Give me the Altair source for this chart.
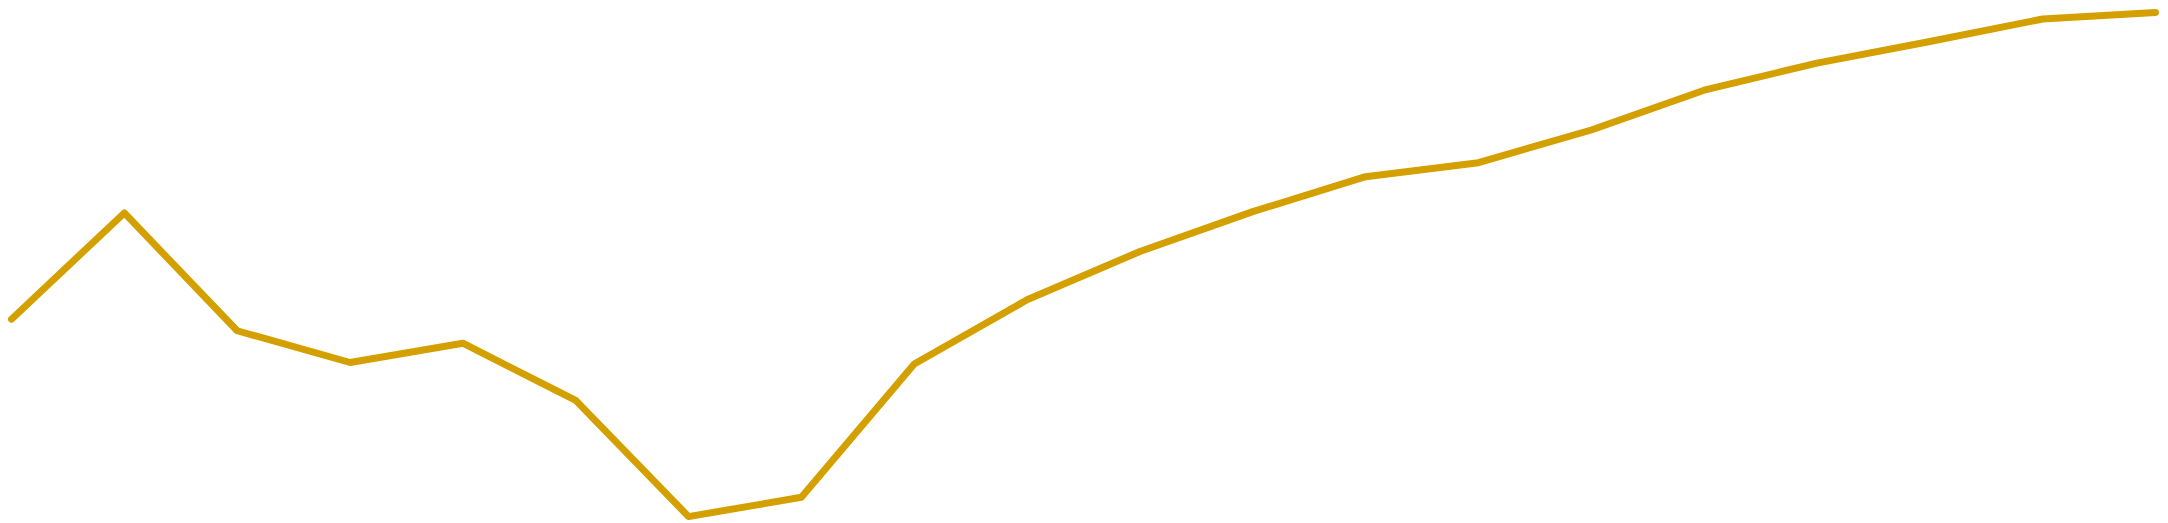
import altair as alt
import pandas as pd

# one value per step (no axis, arbitrary units)
steps = list(range(20))
values = [202.5, 311.0, 190.7, 158.3, 178.0, 119.7, 1.0, 20.7, 156.7, 222.3,
          271.7, 312.3, 348.0, 362.3, 395.7, 436.3, 464.0, 486.0, 509.0, 515.7]

LINE_COLOR = '#D4A000'

source = pd.DataFrame({'step': steps, 'value': values})

chart = alt.Chart(source).mark_line(
    color=LINE_COLOR,
    strokeWidth=7,
    strokeCap='round',
    strokeJoin='round',
    clip=False
).encode(
    x=alt.X('step:Q', scale=alt.Scale(domain=[0, 19], nice=False), axis=None),
    y=alt.Y('value:Q', scale=alt.Scale(zero=False, nice=False), axis=None),
).properties(
    width=2152,
    height=506,
    padding={'left': 3.5, 'right': 4.5, 'top': 3.5, 'bottom': 5.5},
    autosize=alt.AutoSizeParams(type='none'),
    background='white'
).configure_view(
    stroke=None
)

chart.save("out.html", embed_options={"renderer": "svg", "actions": False})
